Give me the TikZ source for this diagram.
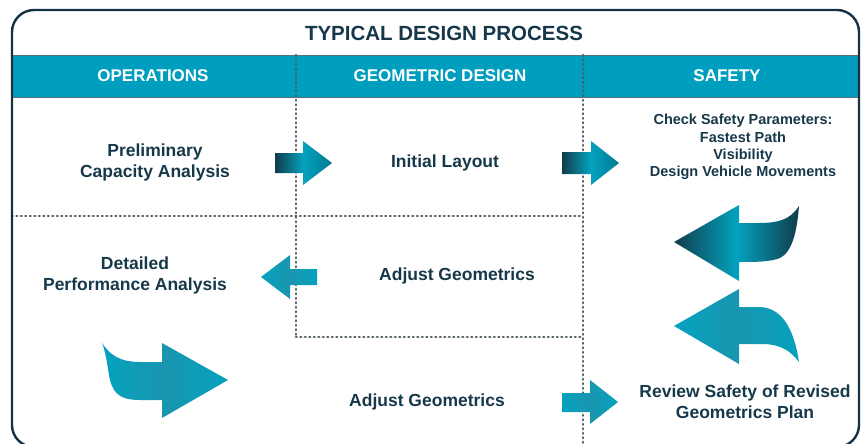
\documentclass[tikz,border=0pt]{standalone}
\usepackage{fontspec}
\setmainfont{Liberation Sans}
\usetikzlibrary{calc}

\definecolor{inkblue}{RGB}{22,56,74}
\definecolor{framenavy}{RGB}{22,50,66}
\definecolor{bandteal}{RGB}{0,158,190}
\definecolor{arrteal}{RGB}{4,162,190}
\definecolor{arrdeep}{RGB}{0,120,146}
\definecolor{arrdark}{RGB}{16,60,76}
\definecolor{arrmid}{RGB}{26,150,176}
\definecolor{dotgray}{RGB}{78,92,100}

\tikzset{
  frame/.style={draw=framenavy, line width=2.4pt, rounded corners=22pt},
  headband/.style={fill=bandteal, draw=framenavy!70, line width=0.8pt},
  griddots/.style={draw=dotgray, line width=2.8pt, dash pattern=on 0.6pt off 3.9pt, line cap=round},
  titletext/.style={text=inkblue, font=\bfseries\fontsize{20.5}{24}\selectfont},
  headtext/.style={text=white, font=\bfseries\fontsize{17}{20}\selectfont},
  label/.style={text=inkblue, align=center, inner sep=0pt, font=\bfseries\fontsize{17.5}{21}\selectfont},
  smalllabel/.style={text=inkblue, align=center, inner sep=0pt, font=\bfseries\fontsize{14.5}{17.3}\selectfont},
  % middle color has to come last: left/right color reset it
  darkarrow/.style={left color=arrdark, right color=arrdeep, middle color=arrteal, draw=none},
  swooparrow/.style={left color=arrdark, right color=arrdark, middle color=arrteal, draw=none},
  plainarrow/.style={left color=arrteal, right color=arrteal, middle color=arrmid, draw=none},
}

\begin{document}
\begin{tikzpicture}[x=1pt, y=-1pt]
\useasboundingbox (0,0) rectangle (868,444);
\clip (0,0) rectangle (868,444);

% header band and column titles
\path[headband] (12,55) rectangle (859,97);
\node[titletext] (title) at (444,33) {TYPICAL DESIGN PROCESS};
\node[headtext] (hops) at (153,76) {OPERATIONS};
\node[headtext] (hgeo) at (440,76) {GEOMETRIC DESIGN};
\node[headtext] (hsaf) at (727,76) {SAFETY};

% dotted grid
\coordinate (v1top) at (296,55);
\coordinate (v1bot) at (296,337);
\coordinate (v2top) at (583,55);
\coordinate (v2bot) at (583,446);
\coordinate (h1l) at (12,216);
\coordinate (h1r) at (583,216);
\coordinate (h2r) at (583,337);
\draw[griddots] (v1top) -- (v1bot);
\draw[griddots] (v2top) -- (v2bot);
\draw[griddots] (h1l) -- (h1r);
\draw[griddots] (v1bot) -- (h2r);

% outer frame
\draw[frame] (12,10) rectangle (859,447);

% step labels
\node[label] (prelim) at (155,162) {Preliminary\\Capacity Analysis};
\node[label] (initial) at (445,163) {Initial Layout};
\node[smalllabel] (check) at (743,147) {Check Safety Parameters:\\Fastest Path\\Visibility\\Design Vehicle Movements};
\node[label] (detailed) at (135,275) {Detailed\\Performance Analysis};
\node[label] (adjustA) at (457,276) {Adjust Geometrics};
\node[label] (adjustB) at (427,402) {Adjust Geometrics};
\node[label] (review) at (745,402) {Review Safety of Revised\\Geometrics Plan};

% block arrows
\shade[darkarrow] (275,153) -- (303,153) -- (303,141) -- (332,163) -- (303,185) -- (303,173) -- (275,173) -- cycle;
\shade[darkarrow] (562,152) -- (591,152) -- (591,141) -- (619,163) -- (591,185) -- (591,174) -- (562,174) -- cycle;
\shade[plainarrow] (317,269) -- (290,269) -- (290,255) -- (261,277) -- (290,299) -- (290,285) -- (317,285) -- cycle;
\shade[swooparrow] (739,223) -- (758,223) .. controls (778,223) and (790,220) .. (799,206)
   .. controls (797,232) and (792,252) .. (780,258) .. controls (770,262) and (755,262) .. (739,262)
   -- (739,281) -- (674,242) -- (739,205) -- cycle;
\shade[plainarrow] (739,307) -- (760,307) .. controls (785,308) and (795,335) .. (799,362)
   .. controls (790,350) and (780,345) .. (765,344) -- (739,344)
   -- (739,364) -- (674,326) -- (739,289) -- cycle;
\shade[plainarrow] (102,343) .. controls (110,355) and (120,362) .. (140,362) -- (162,362) -- (162,343)
   -- (228,380) -- (162,418) -- (162,400) -- (140,400) .. controls (118,400) and (112,392) .. (109,375)
   .. controls (107,362) and (105,350) .. (102,343) -- cycle;
\shade[plainarrow] (562,393) -- (590,393) -- (590,380) -- (618,402) -- (590,424) -- (590,412) -- (562,412) -- cycle;
\end{tikzpicture}
\end{document}
